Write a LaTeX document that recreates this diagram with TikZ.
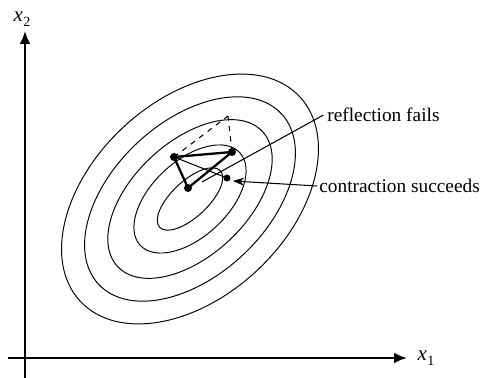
\documentclass[tikz,border=0pt]{standalone}
\usepackage{fontspec}
\setmainfont{Liberation Serif}
\usetikzlibrary{arrows.meta}
\newcommand{\axlabel}[1]{\textit{x}\kern0.3pt\raisebox{-0.45ex}{\fontsize{8}{9}\selectfont #1}}
\begin{document}
\begin{tikzpicture}[x=0.02cm,y=-0.02cm,
  contour/.style={line width=0.55pt},
  axis/.style={line width=1.6pt,-{Latex[length=2.6mm,width=2.2mm]}},
  edge/.style={line width=1.3pt},
  thinline/.style={line width=0.6pt},
  dashline/.style={line width=0.6pt,dash pattern=on 3pt off 3pt},
  vertex/.style={circle,fill=black,inner sep=0pt,minimum size=1.6mm},
  lbl/.style={font=\fontsize{11}{13}\selectfont,inner sep=0pt,anchor=west},
  axlbl/.style={font=\fontsize{12}{14}\selectfont,inner sep=0pt}]
\useasboundingbox (0,0) rectangle (498,378);
% contours
\begin{scope}[rotate around={43:(190,199)}]
  \draw[contour] (190,199) ellipse (41.5 and 18);
  \draw[contour] (190,199) ellipse (68 and 38);
  \draw[contour] (190,199) ellipse (99 and 57);
  \draw[contour] (190,199) ellipse (125 and 77);
  \draw[contour] (190,199) ellipse (150 and 98);
\end{scope}
% axes
\coordinate (yb) at (25,378);
\coordinate (yt) at (25,31);
\coordinate (xl) at (8,358);
\coordinate (xr) at (407,358);
\draw[axis] (yb) -- (yt);
\draw[axis] (xl) -- (xr);
\node[axlbl] (x2) at (22,19) {\axlabel{2}};
\node[axlbl] (x1) at (426,358) {\axlabel{1}};
% simplex
\node[vertex] (p1) at (174,157) {};
\node[vertex] (p2) at (232,152) {};
\node[vertex] (p3) at (188,188) {};
\node[vertex,minimum size=1.4mm] (pc) at (227,178) {};
\coordinate (pr) at (228,116);
\draw[edge] (p1.center) -- (p2.center) -- (p3.center) -- cycle;
\draw[thinline] (p1.center) -- (pc.center);
\draw[dashline] (p1.center) -- (pr);
\draw[dashline] (p2.center) -- (pr);
% labels
\node[lbl] (rf) at (327,115) {reflection fails};
\node[lbl] (cs) at (319,186) {contraction succeeds};
\coordinate (rfend) at (202,182);
\coordinate (cstip) at (233,181);
\draw[thinline] ([xshift=-2pt]rf.west) -- (rfend);
\draw[thinline,-{Stealth[length=2.2mm,width=1.6mm]}] ([xshift=-1pt]cs.west) -- (cstip);
\end{tikzpicture}
\end{document}
